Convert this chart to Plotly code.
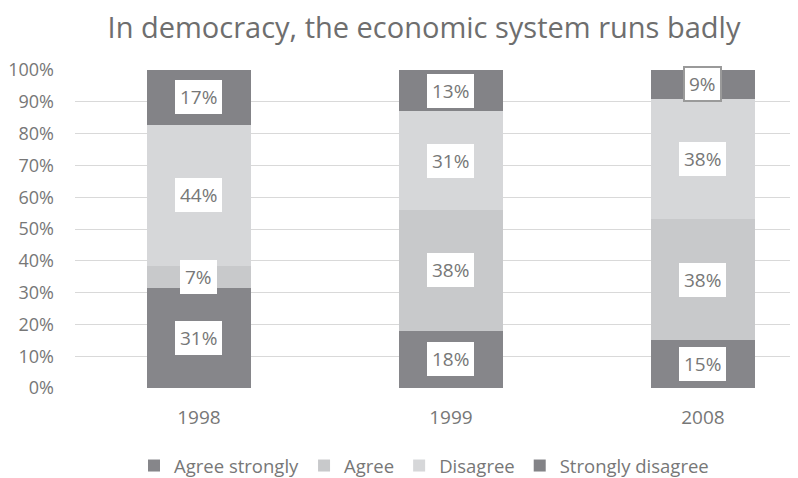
import plotly.graph_objects as go

years = ["1998", "1999", "2008"]
series_names = ["Agree strongly", "Agree", "Disagree", "Strongly disagree"]
agree_strongly = [31, 18, 15]
agree = [7, 38, 38]
disagree = [44, 31, 38]
strongly_disagree = [17, 13, 9]
y_ticks = [0, 10, 20, 30, 40, 50, 60, 70, 80, 90, 100]
y_tick_labels = [f"{v}%" for v in y_ticks]

series = [agree_strongly, agree, disagree, strongly_disagree]
colors = ["#86868a", "#c8c9cb", "#d6d7d9", "#838387"]
FONT = "Open Sans"
TXT = "#777777"

W, H = 798, 478
OFF = 8  # default page body margin

totals = [sum(s[i] for s in series) for i in range(len(years))]
xs = list(range(len(years)))

fig = go.Figure()
for name, vals, col in zip(series_names, series, colors):
    norm = [v / t * 100 for v, t in zip(vals, totals)]
    fig.add_trace(go.Bar(x=xs, y=norm, name=name, marker=dict(color=col, line=dict(width=0)),
                         width=0.41, hoverinfo="skip"))

# data labels in white boxes
for i in range(len(years)):
    base = 0
    for k, vals in enumerate(series):
        h = vals[i] / totals[i] * 100
        mid = base + h / 2
        base += h
        bordered = (i == 2 and k == 3)
        fig.add_annotation(x=xs[i], y=mid, text=f"{vals[i]}%", showarrow=False,
                           font=dict(family=FONT, size=19, color=TXT),
                           bgcolor="white", height=24,
                           borderpad=4 if bordered else 5,
                           bordercolor="#9a9a9a" if bordered else "rgba(0,0,0,0)",
                           borderwidth=2 if bordered else 0)

fig.update_layout(
    barmode="stack",
    width=W, height=H,
    margin=dict(l=75 - OFF, r=OFF, t=70 - OFF, b=H - (388 - OFF)),
    paper_bgcolor="white", plot_bgcolor="white",
    title=dict(text="In democracy, the economic system runs badly",
               x=(424 - OFF) / W, xanchor="center", y=1 - (28 - OFF) / H, yanchor="middle",
               font=dict(family=FONT, size=29, color="#6e6e6e")),
    showlegend=True,
    legend=dict(orientation="h", xref="container", yref="container",
                x=(424 - OFF) / W, xanchor="center", y=1 - (466 - OFF) / H, yanchor="middle",
                font=dict(family=FONT, size=18.5, color=TXT), traceorder="normal",
                itemwidth=30),
    xaxis=dict(tickmode="array", tickvals=xs, ticktext=years, range=[-0.492, 2.377],
               showgrid=False, zeroline=False, showline=False, ticks="",
               ticklabelstandoff=16, automargin=False,
               tickfont=dict(family=FONT, size=19, color=TXT)),
    yaxis=dict(range=[0, 100], tickmode="array", tickvals=y_ticks, ticktext=y_tick_labels,
               showgrid=True, gridcolor="#d9d9d9", gridwidth=1, zeroline=False,
               showline=False, ticks="", ticklabelstandoff=20, automargin=False,
               tickfont=dict(family=FONT, size=18, color=TXT)),
)

fig.write_html("out.html")
